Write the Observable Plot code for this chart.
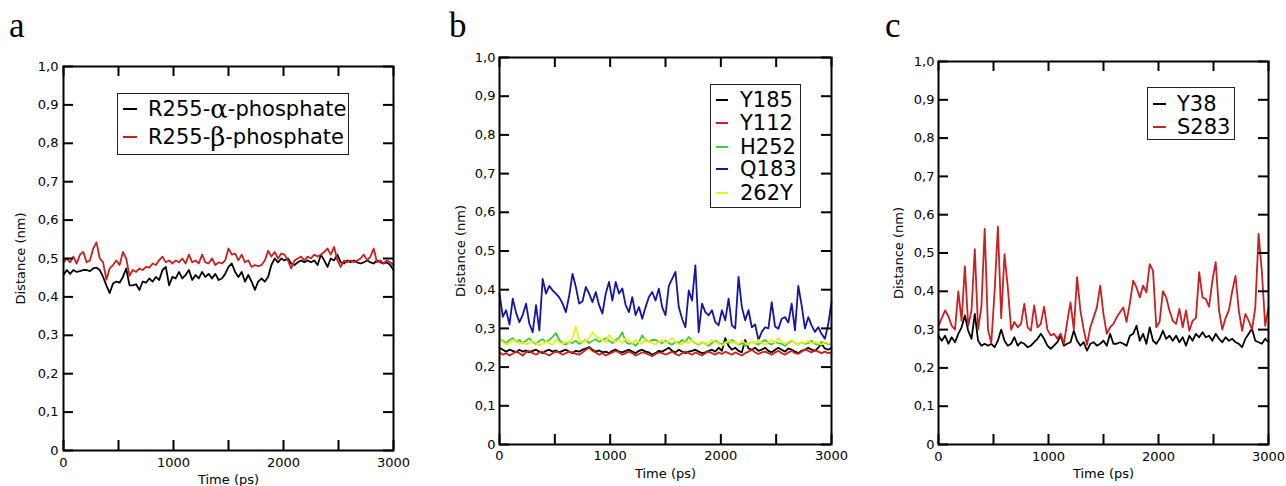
<!DOCTYPE html>
<html><head><meta charset="utf-8">
<script src="https://cdn.jsdelivr.net/npm/d3@7"></script>
<script src="https://cdn.jsdelivr.net/npm/@observablehq/plot@0.6"></script>
<style>
html,body{margin:0;padding:0;background:#fff;}
#root{position:relative;width:1286px;height:486px;overflow:hidden;font-family:"DejaVu Sans",sans-serif;}
.panel{position:absolute;top:0;}
.letter{position:absolute;font-family:"Liberation Serif","Times New Roman",serif;font-size:35px;line-height:35px;color:#000;}
.legend{position:absolute;border:1px solid #222;background:#fff;box-sizing:border-box;}
.entry{position:absolute;height:30px;display:flex;align-items:center;white-space:nowrap;font-size:21px;color:#000;font-family:"DejaVu Sans",sans-serif;}
.swatch{position:absolute;height:2px;}
.greek{font-family:"DejaVu Serif","Liberation Serif",serif;font-size:26px;}
</style></head><body><div id="root"></div>
<script>
// ---- shared axis data ----
const times = d3.range(0, 3001, 30); // sampling grid (ps)
const yTickValues = [0,0.1,0.2,0.3,0.4,0.5,0.6,0.7,0.8,0.9,1.0];
const xTickValues = [0,500,1000,1500,2000,2500,3000];
const xTickLabels = [0,1000,2000,3000];
const xLabel = "Time (ps)";
const yLabel = "Distance (nm)";
const panelLetters = ["a","b","c"];

// ---- panel a ----
const aNames = ["R255-\u03b1-phosphate","R255-\u03b2-phosphate"];
const aColors = ["#000000","#cc1f1f"];
const aAlpha = [0.457,0.47,0.46,0.47,0.465,0.467,0.47,0.47,0.467,0.474,
 0.476,0.47,0.452,0.43,0.41,0.435,0.44,0.437,0.452,0.474,
 0.43,0.43,0.433,0.418,0.44,0.437,0.448,0.44,0.452,0.444,
 0.47,0.478,0.43,0.452,0.448,0.465,0.448,0.457,0.47,0.444,
 0.457,0.448,0.465,0.452,0.46,0.448,0.46,0.444,0.448,0.46,
 0.478,0.487,0.465,0.452,0.465,0.44,0.457,0.44,0.418,0.44,
 0.448,0.44,0.452,0.483,0.50,0.49,0.50,0.495,0.50,0.487,
 0.483,0.49,0.495,0.49,0.495,0.49,0.495,0.483,0.51,0.495,
 0.478,0.50,0.495,0.51,0.49,0.487,0.495,0.49,0.495,0.49,
 0.487,0.49,0.495,0.49,0.487,0.495,0.49,0.487,0.49,0.483,0.47];
const aBeta = [0.49,0.50,0.49,0.505,0.487,0.51,0.517,0.49,0.495,0.526,
 0.542,0.50,0.49,0.445,0.474,0.483,0.495,0.483,0.517,0.50,
 0.455,0.47,0.465,0.474,0.47,0.478,0.476,0.487,0.483,0.496,
 0.505,0.49,0.495,0.487,0.495,0.49,0.50,0.487,0.51,0.49,
 0.495,0.487,0.51,0.49,0.487,0.50,0.483,0.49,0.487,0.495,
 0.526,0.51,0.513,0.495,0.51,0.49,0.495,0.478,0.483,0.48,
 0.483,0.495,0.52,0.505,0.517,0.50,0.513,0.51,0.495,0.474,
 0.495,0.50,0.505,0.495,0.505,0.50,0.51,0.505,0.51,0.517,
 0.526,0.51,0.53,0.495,0.478,0.495,0.49,0.495,0.49,0.495,
 0.50,0.51,0.495,0.505,0.526,0.49,0.495,0.487,0.495,0.49,0.483];

// ---- panel b ----
const bNames = ["Y185","Y112","H252","Q183","262Y"];
const bColors = ["#000000","#cc1f1f","#3ccc3c","#1414a8","#eeee22"];
const bY185 = [0.25,0.245,0.24,0.245,0.242,0.238,0.245,0.24,0.243,0.238,
 0.242,0.245,0.24,0.236,0.242,0.245,0.24,0.243,0.238,0.242,
 0.245,0.24,0.236,0.242,0.24,0.245,0.248,0.252,0.245,0.24,
 0.243,0.238,0.24,0.236,0.242,0.245,0.24,0.238,0.242,0.245,
 0.24,0.236,0.242,0.245,0.24,0.238,0.232,0.236,0.242,0.24,
 0.245,0.25,0.242,0.238,0.245,0.24,0.236,0.24,0.242,0.245,
 0.24,0.236,0.238,0.242,0.245,0.24,0.25,0.242,0.275,0.255,
 0.245,0.25,0.242,0.238,0.27,0.248,0.245,0.25,0.242,0.245,
 0.25,0.242,0.238,0.245,0.25,0.245,0.24,0.248,0.245,0.24,
 0.236,0.242,0.245,0.25,0.245,0.242,0.25,0.26,0.248,0.245,0.25];
const bY112 = [0.238,0.232,0.236,0.23,0.235,0.24,0.236,0.23,0.238,0.242,
 0.236,0.232,0.238,0.24,0.234,0.23,0.236,0.24,0.238,0.232,
 0.236,0.24,0.238,0.234,0.232,0.238,0.245,0.25,0.242,0.238,
 0.232,0.236,0.23,0.234,0.238,0.242,0.238,0.232,0.236,0.24,
 0.236,0.23,0.234,0.238,0.236,0.232,0.228,0.234,0.238,0.236,
 0.232,0.236,0.24,0.234,0.23,0.236,0.24,0.236,0.232,0.238,
 0.234,0.23,0.236,0.24,0.236,0.232,0.238,0.234,0.24,0.236,
 0.232,0.238,0.234,0.23,0.236,0.24,0.245,0.238,0.234,0.238,
 0.24,0.236,0.232,0.238,0.242,0.236,0.232,0.238,0.242,0.236,
 0.234,0.24,0.245,0.242,0.238,0.244,0.24,0.236,0.24,0.236,0.238];
const bH252 = [0.272,0.268,0.262,0.27,0.275,0.265,0.27,0.262,0.268,0.275,
 0.265,0.26,0.268,0.272,0.265,0.27,0.278,0.288,0.27,0.262,
 0.258,0.265,0.262,0.268,0.26,0.265,0.27,0.262,0.268,0.272,
 0.265,0.27,0.275,0.268,0.262,0.27,0.275,0.29,0.265,0.26,
 0.262,0.255,0.265,0.282,0.27,0.265,0.27,0.27,0.265,0.262,
 0.268,0.262,0.258,0.265,0.262,0.27,0.265,0.278,0.268,0.262,
 0.258,0.265,0.26,0.255,0.262,0.268,0.262,0.258,0.265,0.262,
 0.27,0.265,0.258,0.262,0.255,0.26,0.265,0.262,0.258,0.265,
 0.27,0.262,0.258,0.265,0.262,0.26,0.255,0.262,0.268,0.262,
 0.258,0.265,0.26,0.262,0.268,0.26,0.258,0.265,0.262,0.26,0.258];
const bQ183 = [0.39,0.33,0.347,0.31,0.377,0.34,0.316,0.335,0.364,0.312,
 0.29,0.36,0.295,0.428,0.39,0.41,0.398,0.39,0.38,0.364,
 0.342,0.385,0.441,0.407,0.364,0.37,0.407,0.39,0.368,0.394,
 0.36,0.338,0.39,0.42,0.372,0.42,0.39,0.403,0.36,0.342,
 0.381,0.334,0.355,0.325,0.355,0.381,0.394,0.372,0.403,0.355,
 0.334,0.41,0.428,0.446,0.355,0.325,0.303,0.398,0.372,0.463,
 0.29,0.364,0.342,0.334,0.347,0.316,0.308,0.347,0.321,0.377,
 0.308,0.30,0.433,0.355,0.321,0.347,0.303,0.31,0.27,0.291,
 0.303,0.30,0.368,0.305,0.299,0.325,0.329,0.315,0.364,0.295,
 0.41,0.36,0.30,0.329,0.308,0.291,0.303,0.286,0.273,0.31,0.368];
const b262Y = [0.27,0.265,0.258,0.262,0.27,0.266,0.26,0.265,0.258,0.262,
 0.268,0.262,0.256,0.26,0.265,0.262,0.258,0.27,0.264,0.26,
 0.265,0.262,0.275,0.305,0.27,0.262,0.268,0.275,0.29,0.28,
 0.275,0.27,0.265,0.283,0.272,0.265,0.27,0.262,0.275,0.268,
 0.262,0.27,0.265,0.26,0.275,0.265,0.262,0.258,0.265,0.27,
 0.262,0.268,0.275,0.265,0.258,0.26,0.265,0.262,0.27,0.264,
 0.26,0.266,0.258,0.262,0.27,0.265,0.26,0.255,0.262,0.27,
 0.262,0.265,0.26,0.268,0.262,0.258,0.265,0.26,0.27,0.262,
 0.258,0.265,0.27,0.262,0.275,0.265,0.26,0.265,0.27,0.262,
 0.258,0.265,0.262,0.268,0.26,0.265,0.262,0.258,0.265,0.262,0.26];

// ---- panel c ----
const cNames = ["Y38","S283"];
const cColors = ["#000000","#cc1f1f"];
const cY38 = [0.284,0.271,0.284,0.263,0.28,0.267,0.289,0.306,0.337,0.297,
 0.276,0.341,0.271,0.258,0.263,0.258,0.263,0.254,0.271,0.30,
 0.271,0.258,0.263,0.28,0.258,0.267,0.263,0.254,0.258,0.267,
 0.276,0.289,0.276,0.258,0.25,0.258,0.267,0.284,0.258,0.263,
 0.267,0.297,0.271,0.258,0.267,0.245,0.263,0.267,0.258,0.263,
 0.271,0.258,0.289,0.263,0.263,0.267,0.263,0.258,0.284,0.289,
 0.31,0.271,0.289,0.263,0.306,0.271,0.263,0.276,0.297,0.276,
 0.284,0.271,0.284,0.267,0.28,0.258,0.284,0.271,0.289,0.28,
 0.293,0.28,0.284,0.271,0.289,0.276,0.267,0.28,0.271,0.276,
 0.267,0.263,0.254,0.276,0.289,0.302,0.271,0.267,0.263,0.276,0.267];
const cS283 = [0.31,0.33,0.35,0.335,0.31,0.30,0.40,0.323,0.465,0.31,
 0.35,0.51,0.30,0.36,0.563,0.30,0.265,0.40,0.569,0.33,
 0.497,0.41,0.30,0.32,0.306,0.315,0.367,0.306,0.297,0.363,
 0.306,0.315,0.36,0.30,0.285,0.289,0.276,0.289,0.263,0.32,
 0.371,0.30,0.437,0.35,0.30,0.26,0.306,0.332,0.358,0.415,
 0.34,0.289,0.306,0.315,0.332,0.345,0.358,0.32,0.37,0.428,
 0.41,0.384,0.415,0.397,0.471,0.454,0.306,0.32,0.40,0.384,
 0.35,0.323,0.315,0.354,0.306,0.35,0.297,0.323,0.33,0.45,
 0.384,0.38,0.36,0.428,0.476,0.35,0.30,0.33,0.35,0.40,
 0.44,0.35,0.297,0.341,0.323,0.30,0.358,0.55,0.45,0.31,0.358];

// ---- layout (styles / positions) ----
const panels = [
  {left:0, width:420, mL:63, mR:27, mT:66, mB:36, yLabOff:48, xLabOff:33, xPad:7, yPad:5,
   names:aNames, colors:aColors, values:[aAlpha,aBeta],
   letter:{x:9, y:8},
   legend:{x:117, y:93, w:232, h:62, lx0:123, lx1:137, tx:148, rows:[109,137]}},
  {left:430, width:430, mL:69, mR:29, mT:57, mB:42, yLabOff:44, xLabOff:33, xPad:6, yPad:4,
   names:bNames, colors:bColors, values:[bY185,bY112,bH252,bQ183,b262Y],
   letter:{x:449, y:8},
   legend:{x:710, y:84, w:91, h:124, lx0:716, lx1:728, tx:740, rows:[100,123,147,169,193]}},
  {left:860, width:426, mL:78, mR:18, mT:61, mB:42, yLabOff:45, xLabOff:33, xPad:7, yPad:4,
   names:cNames, colors:cColors, values:[cY38,cS283],
   letter:{x:885, y:8},
   legend:{x:1147, y:87, w:88, h:53, lx0:1153, lx1:1166, tx:1177, rows:[104,127]}}
];

const root = document.getElementById("root");
const fmtComma = d => d === 0 ? "0" : d.toFixed(1).replace(".", ",");
const H = 486, TICK = 10;

panels.forEach((p, pi) => {
  const iw = p.width - p.mL - p.mR, ih = H - p.mT - p.mB;
  const lineMarks = p.values.map((vals, si) =>
    Plot.line(vals.map((v, i) => ({t: times[i], v})), {x: "t", y: "v", stroke: p.colors[si], strokeWidth: 1.8, strokeLinejoin: "round"}));
  const chart = Plot.plot({
    width: p.width, height: H,
    marginLeft: p.mL, marginRight: p.mR, marginTop: p.mT, marginBottom: p.mB,
    x: {domain: [0, 3000]},
    y: {domain: [0, 1]},
    style: {fontFamily: "DejaVu Sans, sans-serif", fontSize: "13px", color: "#000", background: "transparent", overflow: "visible"},
    marks: [
      ...lineMarks,
      Plot.tickY(yTickValues, {y: d => d, insetRight: iw - TICK, stroke: "#000", strokeWidth: 2}),
      Plot.tickY(yTickValues, {y: d => d, insetLeft: iw - TICK, stroke: "#000", strokeWidth: 2}),
      Plot.tickX(xTickValues, {x: d => d, insetTop: ih - TICK, stroke: "#000", strokeWidth: 2}),
      Plot.tickX(xTickValues, {x: d => d, insetBottom: ih - TICK, stroke: "#000", strokeWidth: 2}),
      Plot.frame({stroke: "#000", strokeWidth: 2}),
      Plot.axisY({ticks: yTickValues, tickSize: 0, tickPadding: p.yPad, tickFormat: fmtComma, fontSize: 13,
        label: yLabel, labelAnchor: "center", labelOffset: p.yLabOff, labelArrow: "none"}),
      Plot.axisX({ticks: xTickLabels, tickSize: 0, tickPadding: p.xPad, tickFormat: d => String(d), fontSize: 13,
        label: xLabel, labelAnchor: "center", labelOffset: p.xLabOff, labelArrow: "none"})
    ]
  });
  chart.classList.add("panel");
  chart.style.position = "absolute";
  chart.style.left = p.left + "px";
  chart.style.top = "0px";
  root.appendChild(chart);

  // panel letter
  const L = document.createElement("div");
  L.className = "letter";
  L.textContent = panelLetters[pi];
  L.style.left = p.letter.x + "px";
  L.style.top = p.letter.y + "px";
  root.appendChild(L);

  // legend
  const cfg = p.legend;
  const box = document.createElement("div");
  box.className = "legend";
  Object.assign(box.style, {left: cfg.x + "px", top: cfg.y + "px", width: cfg.w + "px", height: cfg.h + "px"});
  p.names.forEach((name, i) => {
    const cy = cfg.rows[i] - cfg.y - 1;
    const sw = document.createElement("div");
    sw.className = "swatch";
    Object.assign(sw.style, {left: (cfg.lx0 - cfg.x - 1) + "px", top: (cy - 1) + "px", width: (cfg.lx1 - cfg.lx0) + "px", background: p.colors[i]});
    const t = document.createElement("div");
    t.className = "entry";
    Object.assign(t.style, {left: (cfg.tx - cfg.x - 1) + "px", top: (cy - 15) + "px"});
    t.innerHTML = name.replace(/([\u03b1-\u03c9])/g, '<span class="greek">$1</span>');
    box.appendChild(sw);
    box.appendChild(t);
  });
  root.appendChild(box);
});
</script></body></html>
